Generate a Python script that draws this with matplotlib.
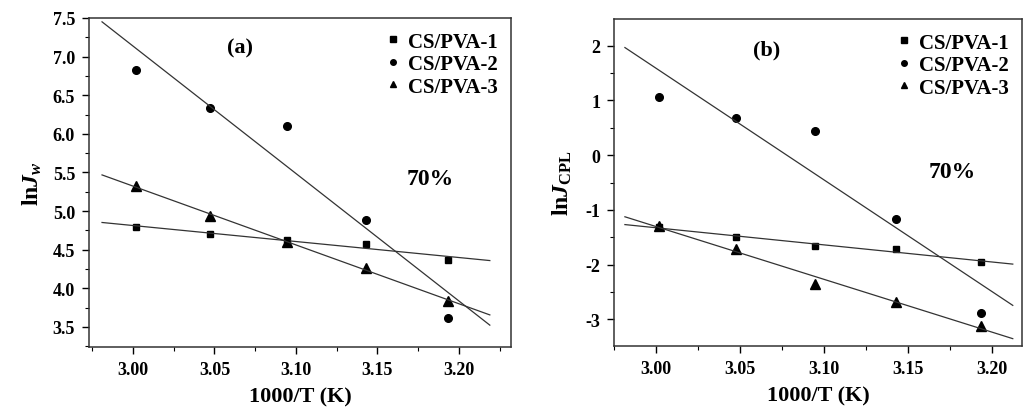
import numpy as np
import matplotlib
matplotlib.use("Agg")
import matplotlib.pyplot as plt
from matplotlib.ticker import MultipleLocator
from matplotlib.lines import Line2D

plt.rcParams['font.family'] = ['Liberation Serif', 'DejaVu Serif']
plt.rcParams['font.weight'] = 'bold'
plt.rcParams['mathtext.fontset'] = 'custom'
plt.rcParams['mathtext.rm'] = 'Liberation Serif:bold'
plt.rcParams['mathtext.it'] = 'Liberation Serif:italic:bold'
plt.rcParams['mathtext.bf'] = 'Liberation Serif:bold'

x = [3.0017, 3.0474, 3.0945, 3.1432, 3.1934]
labels = ['CS/PVA-1', 'CS/PVA-2', 'CS/PVA-3']
markers = ['s', 'o', '^']

lnJw_1 = [4.80, 4.70, 4.63, 4.57, 4.37]
lnJw_2 = [6.83, 6.33, 6.10, 4.88, 3.62]
lnJw_3 = [5.33, 4.93, 4.60, 4.26, 3.84]

lnJcpl_1 = [-1.31, -1.50, -1.66, -1.72, -1.95]
lnJcpl_2 = [1.06, 0.68, 0.45, -1.16, -2.88]
lnJcpl_3 = [-1.29, -1.71, -2.36, -2.68, -3.12]

fig = plt.figure(figsize=(10.24, 4.10), dpi=100)
W, H = 1024, 410

def make_ax(l, t, r, b):
    return fig.add_axes([l / W, 1 - b / H, (r - l) / W, (b - t) / H])

axA = make_ax(89, 19, 511, 348)
axB = make_ax(614, 20, 1022, 347)

def style(ax, xlim, ylim, ymaj, ymin, yfmt):
    ax.set_xlim(*xlim)
    ax.set_ylim(*ylim)
    ax.xaxis.set_major_locator(MultipleLocator(0.05))
    ax.xaxis.set_minor_locator(MultipleLocator(0.025))
    ax.yaxis.set_major_locator(MultipleLocator(ymaj))
    ax.yaxis.set_minor_locator(MultipleLocator(ymin))
    ax.xaxis.set_major_formatter(plt.FormatStrFormatter('%.2f'))
    ax.yaxis.set_major_formatter(plt.FormatStrFormatter(yfmt))
    ax.tick_params(which='major', direction='out', length=5, width=1.0,
                   labelsize=13, top=False, right=False, pad=5)
    ax.tick_params(which='minor', direction='out', length=3, width=0.8,
                   top=False, right=False)
    for lab in ax.get_xticklabels() + ax.get_yticklabels():
        lab.set_fontweight('bold')
    for sp in ax.spines.values():
        sp.set_linewidth(1.1)
        sp.set_color('#333333')
    ax.set_xlabel('1000/T (K)', fontsize=16, fontweight='bold', labelpad=6)

def draw(ax, series, xfit):
    handles = []
    for ys, m, lab in zip(series, markers, labels):
        ax.plot(x, ys, linestyle='none', marker=m, color='black',
                markersize={'s': 5, 'o': 5.5, '^': 6.5}[m])
        k, c = np.polyfit(x, ys, 1)
        xf = np.array(xfit)
        ax.plot(xf, k * xf + c, color='#333333', linewidth=0.9)
        handles.append(Line2D([], [], linestyle='none', marker=m, color='black',
                              markersize=4, label=lab))
    ax.legend(handles=handles, loc='upper right', frameon=False,
              prop={'family': 'Liberation Serif', 'weight': 'bold', 'size': 15},
              handlelength=0.6, handletextpad=0.4, labelspacing=0.12,
              borderaxespad=0.5, borderpad=0.15)

style(axA, (2.973, 3.232), (3.24, 7.5), 0.5, 0.25, '%.1f')
draw(axA, [lnJw_1, lnJw_2, lnJw_3], [2.981, 3.219])
axA.set_ylabel(r'ln$\mathit{J}_{w}$', fontsize=17, fontweight='bold', labelpad=6)

style(axB, (2.975, 3.218), (-3.49, 2.49), 1, 0.5, '%d')
draw(axB, [lnJcpl_1, lnJcpl_2, lnJcpl_3], [2.9815, 3.2125])
axB.set_ylabel(r'ln$\mathit{J}_{\mathrm{CPL}}$', fontsize=17, fontweight='bold', labelpad=8)

def pix_text(px, py, s, size):
    fig.text(px / W, 1 - py / H, s, fontsize=size, fontweight='bold',
             ha='center', va='center')

pix_text(240, 48, '(a)', 16)
pix_text(430, 180, '70%', 17)
pix_text(767, 50, '(b)', 16)
pix_text(952, 173, '70%', 17)

fig.savefig('out.png', dpi=100, facecolor='white')
